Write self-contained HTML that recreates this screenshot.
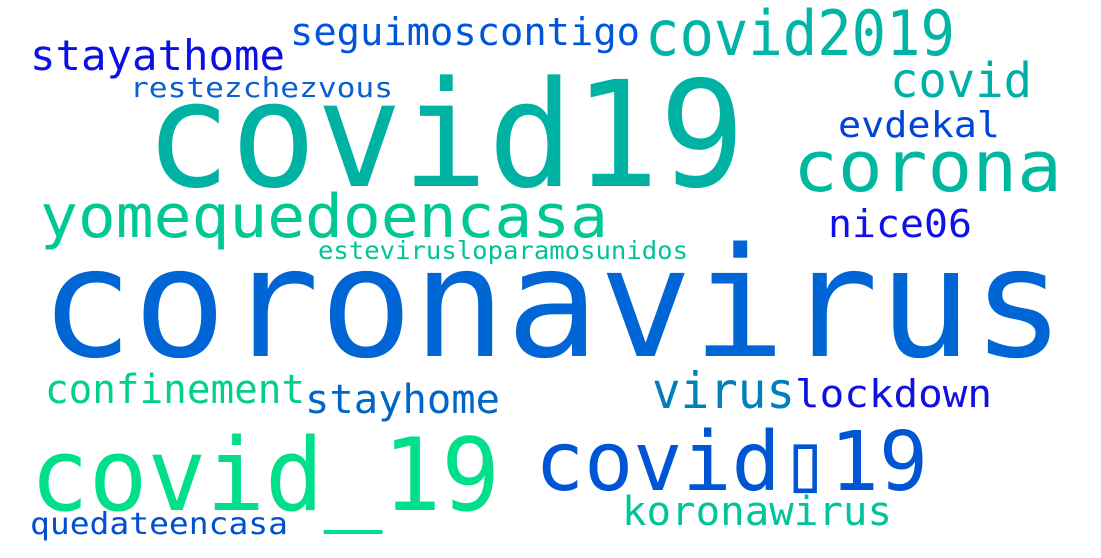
<!DOCTYPE html>
<html><head><meta charset="utf-8"><style>
html,body{margin:0;padding:0;background:#fff;}
svg{display:block;}
text{font-family:"DejaVu Sans Mono","Liberation Mono",monospace;}
</style></head><body>
<svg width="1101" height="558" viewBox="0 0 1101 558">
<rect width="1101" height="558" fill="#fff"/>
<g id="words"></g>
</svg>
<script>
const words=["coronavirus","covid19","covid2019","seguimoscontigo","stayathome","restezchezvous","covid","corona","evdekal","yomequedoencasa","nice06","estevirusloparamosunidos","confinement","stayhome","virus","lockdown","covid_19","covid\u25AF19","koronawirus","quedateencasa"];
const x0=[40,145,645,290,30,130,890,793,838,40,828,318,45,305,652,795,30,535,622,30];
const x1=[1065,745,955,640,285,393,1032,1062,1000,608,972,688,305,500,795,992,500,928,892,288];
const base=[356,186,55,45,70,97,97,191,137,237,237,259,403,413,408,407,510,490,525,534];
const size=[152,147,62,38,42,28,48,70,36,60,38,25,40,40,50,38,101,82,40,30];
const colors=["#0066d6","#00b2a4","#00b5a5","#0055dd","#0a10e6","#0a60d0","#00b0a8","#00b8a0","#0044d8","#00c894","#1010e8","#00c39a","#00d08c","#0066cc","#0080bb","#1010e0","#00e08a","#0055d5","#00c59a","#0050d0"];
const g=document.getElementById('words');
const NS="http://www.w3.org/2000/svg";
words.forEach((w,i)=>{
  const t=document.createElementNS(NS,'text');
  t.setAttribute('x',x0[i]);
  t.setAttribute('y',base[i]);
  t.setAttribute('font-size',size[i]);
  t.setAttribute('fill',colors[i]);
  t.setAttribute('textLength',x1[i]-x0[i]);
  t.setAttribute('lengthAdjust','spacingAndGlyphs');
  t.textContent=w;
  
  
  g.appendChild(t);
});
</script>
</body></html>
